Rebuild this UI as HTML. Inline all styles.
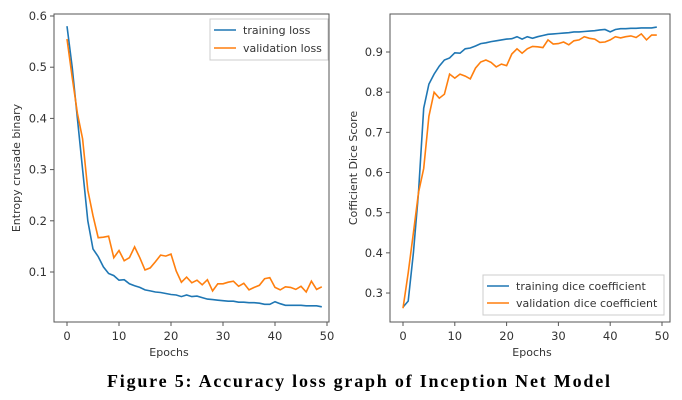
<!DOCTYPE html>
<html><head><meta charset="utf-8"><style>
html,body{margin:0;padding:0;background:#fff;width:682px;height:400px;overflow:hidden}
svg text{font-family:"DejaVu Sans","Liberation Sans",sans-serif;fill:#333}
</style></head><body>
<svg id="s" width="682" height="400" xmlns="http://www.w3.org/2000/svg">
<rect x="54" y="14" width="275" height="308" fill="none" stroke="#555" stroke-width="1"/>
<rect x="390" y="14" width="280" height="308" fill="none" stroke="#555" stroke-width="1"/>
<g id="g"></g>
<text x="169" y="356" font-size="11" text-anchor="middle">Epochs</text>
<text x="532" y="356" font-size="11" text-anchor="middle">Epochs</text>
<text transform="translate(20,168) rotate(-90)" font-size="11" text-anchor="middle">Entropy crusade binary</text>
<text transform="translate(357,168) rotate(-90)" font-size="11" text-anchor="middle">Cofficient Dice Score</text>
<rect x="210" y="19" width="118" height="41" fill="#fff" stroke="#ccc"/>
<line x1="214" y1="30" x2="236" y2="30" stroke="#1f77b4" stroke-width="1.6"/>
<text x="243" y="34" font-size="11">training loss</text>
<line x1="214" y1="48" x2="236" y2="48" stroke="#ff7f0e" stroke-width="1.6"/>
<text x="243" y="52" font-size="11">validation loss</text>
<rect x="483" y="275" width="181" height="40" fill="#fff" stroke="#ccc"/>
<line x1="487" y1="286" x2="509" y2="286" stroke="#1f77b4" stroke-width="1.6"/>
<text x="516" y="290" font-size="11">training dice coefficient</text>
<line x1="487" y1="303" x2="509" y2="303" stroke="#ff7f0e" stroke-width="1.6"/>
<text x="516" y="307" font-size="11">validation dice coefficient</text>
<text x="107" y="387" font-size="18" font-weight="bold" textLength="503" lengthAdjust="spacing" style="font-family:'Liberation Serif',serif;fill:#000">Figure 5: Accuracy loss graph of Inception Net Model</text>
</svg>
<script>
var tl=[0.58,0.5,0.4,0.3,0.2,0.145,0.13,0.11,0.097,0.093,0.084,0.085,0.077,0.073,0.07,0.065,0.063,0.061,0.06,0.058,0.056,0.055,0.052,0.055,0.052,0.053,0.05,0.047,0.046,0.045,0.044,0.043,0.043,0.041,0.041,0.040,0.040,0.039,0.037,0.037,0.042,0.038,0.035,0.035,0.035,0.035,0.034,0.034,0.034,0.032];
var vl=[0.555,0.48,0.41,0.36,0.26,0.21,0.167,0.168,0.17,0.128,0.142,0.122,0.128,0.149,0.128,0.104,0.108,0.12,0.133,0.131,0.135,0.102,0.08,0.09,0.079,0.084,0.075,0.085,0.063,0.077,0.077,0.08,0.082,0.072,0.078,0.065,0.07,0.074,0.087,0.089,0.07,0.065,0.071,0.07,0.066,0.072,0.061,0.082,0.066,0.071];
var td=[0.265,0.28,0.4,0.55,0.76,0.82,0.845,0.865,0.88,0.885,0.898,0.897,0.908,0.91,0.915,0.921,0.923,0.926,0.928,0.93,0.932,0.933,0.938,0.932,0.938,0.934,0.938,0.941,0.944,0.945,0.946,0.947,0.948,0.950,0.950,0.951,0.952,0.953,0.955,0.956,0.950,0.956,0.958,0.958,0.959,0.959,0.960,0.960,0.960,0.962];
var vd=[0.262,0.35,0.45,0.55,0.61,0.74,0.8,0.785,0.795,0.845,0.835,0.845,0.84,0.833,0.86,0.875,0.88,0.874,0.863,0.87,0.866,0.895,0.908,0.897,0.908,0.914,0.913,0.911,0.93,0.92,0.921,0.925,0.918,0.928,0.93,0.938,0.934,0.932,0.924,0.925,0.93,0.938,0.935,0.938,0.94,0.936,0.945,0.93,0.942,0.942];
var h='';
function X1(e){return 67+e*5.2}function Y1(v){return 16+(0.6-v)*512}
function X2(e){return 403+e*5.18}function Y2(v){return 52+(0.9-v)*401.7}
function line(d,X,Y,c){var p=d.map(function(v,i){return X(i).toFixed(1)+','+Y(v).toFixed(1)}).join(' ');h+='<polyline points="'+p+'" fill="none" stroke="'+c+'" stroke-width="1.6"/>';}
line(tl,X1,Y1,'#1f77b4');line(vl,X1,Y1,'#ff7f0e');line(td,X2,Y2,'#1f77b4');line(vd,X2,Y2,'#ff7f0e');
for(var e=0;e<=50;e+=10){var x=X1(e);h+='<line x1="'+x+'" y1="322" x2="'+x+'" y2="326" stroke="#555"/><text x="'+x+'" y="340" font-size="11.5" text-anchor="middle">'+e+'</text>';
x=X2(e);h+='<line x1="'+x+'" y1="322" x2="'+x+'" y2="326" stroke="#555"/><text x="'+x+'" y="340" font-size="11.5" text-anchor="middle">'+e+'</text>';}
[0.1,0.2,0.3,0.4,0.5,0.6].forEach(function(v){var y=Y1(v);h+='<line x1="50" y1="'+y+'" x2="54" y2="'+y+'" stroke="#555"/><text x="47" y="'+(y+4)+'" font-size="11.5" text-anchor="end">'+v.toFixed(1)+'</text>';});
[0.3,0.4,0.5,0.6,0.7,0.8,0.9].forEach(function(v){var y=Y2(v);h+='<line x1="386" y1="'+y+'" x2="390" y2="'+y+'" stroke="#555"/><text x="383" y="'+(y+4)+'" font-size="11.5" text-anchor="end">'+v.toFixed(1)+'</text>';});
document.getElementById('g').innerHTML=h;
</script>
</body></html>
